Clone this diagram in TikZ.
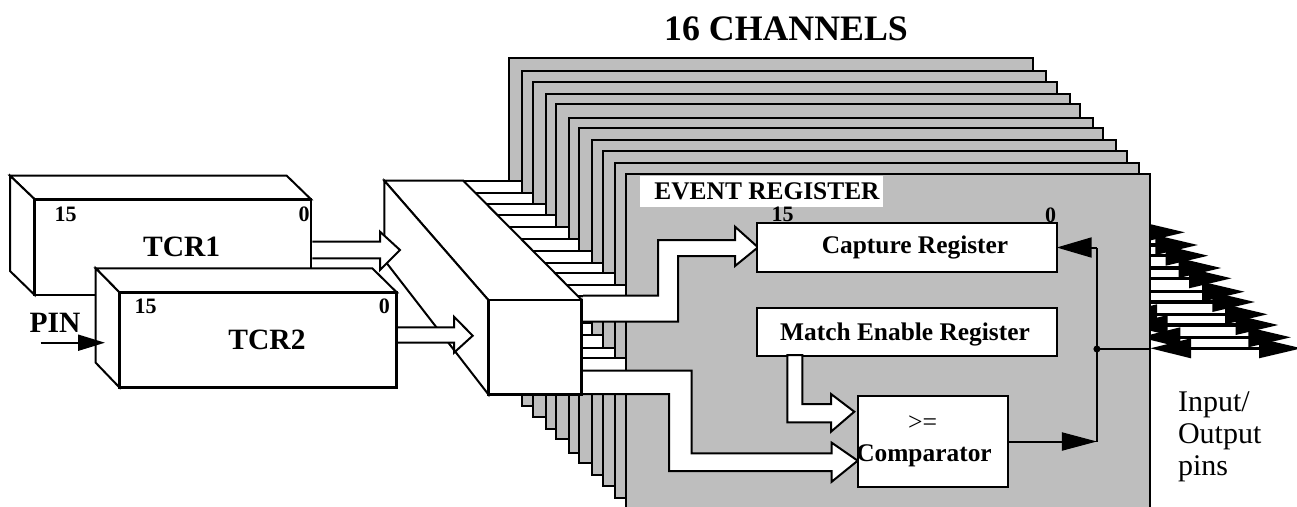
\documentclass[tikz,border=0pt]{standalone}
\usepackage{fontspec}
\setmainfont{Liberation Serif}
\usepackage{xcolor}
\usetikzlibrary{arrows.meta, positioning}
\definecolor{plategray}{HTML}{BEBEBE}
\tikzset{
    plate/.style={draw, fill=plategray},
    regbox/.style={draw, fill=white, inner sep=0pt, outer sep=0pt},
    frontbox/.style={regbox, line width=2.6pt},
    buspath/.style={draw, fill=white, miter limit=10},
    headline/.style={-{Triangle[length=35pt,width=18pt]}},
    txt/.style={inner sep=0pt, font=\bfseries\fontsize{25.4}{28}\selectfont},
    bigtxt/.style={inner sep=0pt, font=\bfseries\fontsize{29.5}{32}\selectfont},
    bittxt/.style={inner sep=0pt, font=\bfseries\fontsize{22}{24}\selectfont}
}

\begin{document}
\begin{tikzpicture}[x=1pt, y=-1pt, line width=2pt]
    \clip (0,0) rectangle (1297,506);
    \node[inner sep=0pt, font=\bfseries\fontsize{35.8}{38}\selectfont] (title) at (786,29) {16 CHANNELS};

    \foreach \x/\y in {509.3/58.3, 522.3/71, 532.7/81.7, 545.7/94, 556/104.3, 569/117.7,
                       579.3/128, 592/140.3, 602.7/151, 615.3/163.3, 626/174.3} {
        \draw[plate] (\x,\y) rectangle ++(524,335);
        \draw[line width=3.5pt, {Triangle[length=41pt,width=19pt]}-{Triangle[length=43pt,width=19pt]}]
            (\x+524,\y+174) -- (\x+676,\y+174);
    }

    \foreach \t/\r/\b in {180.7/522.3/193.3, 193.3/532.7/203.7, 203.7/545.7/215.3, 215.3/556/226.7,
                          226.7/569/239.3, 239.3/579.3/250.7, 250.7/592/262.7, 262.7/602.7/273.3,
                          273.3/615.3/285, 285/626/296} {
        \draw[fill=white] (\t*0.99+280,\t) rectangle (\r,\b);
    }
    \foreach \t/\r/\b in {322.7/592/334.7, 334.7/602.7/347.7, 347.7/615.3/358.3, 358.3/626/370.7} {
        \draw[fill=white] (575,\t) rectangle (\r,\b);
    }

    \draw[fill=white] (384.3,180.7) -- (463.3,180.7) -- (581.7,300) -- (488.3,300) -- cycle;
    \draw[fill=white] (384.3,180.7) -- (488.3,300) -- (488.3,394.3) -- (384.3,260) -- cycle;
    \node[frontbox, minimum width=93.4, minimum height=94.3] (mux) at (535,347.2) {};

    \draw[fill=white] (10,175.7) -- (286.7,175.7) -- (311,199.3) -- (34.7,199.3) -- cycle;
    \draw[fill=white] (10,175.7) -- (34.7,199.3) -- (34.7,295) -- (10,271) -- cycle;
    \node[frontbox, minimum width=276.3, minimum height=95.7] (tcra) at (172.85,247.15) {};
    \node[bittxt] (tcrahigh) at (65.7,214) {15};
    \node[bittxt] (tcralow) at (304,214) {0};
    \node[bigtxt] (tcraname) at (181.7,247) {TCR1};
    \draw[buspath] (312.3,241.7) -- (380,241.7) -- (380,231.7) -- (400,250) -- (380,270) -- (380,258.3) -- (312.3,258.3);

    \draw[fill=white] (95.7,268.3) -- (372.3,268.3) -- (396.7,292.3) -- (119.3,292.3) -- cycle;
    \draw[fill=white] (95.7,268.3) -- (119.3,292.3) -- (119.3,387.3) -- (95.7,362.7) -- cycle;
    \node[frontbox, minimum width=277.4, minimum height=95] (tcrb) at (258,339.8) {};
    \node[bittxt] (tcrbhigh) at (145.7,306.7) {15};
    \node[bittxt] (tcrblow) at (384.3,306.7) {0};
    \node[bigtxt] (tcrbname) at (267,340) {TCR2};
    \draw[buspath] (398,327.3) -- (454,327.3) -- (454,316.7) -- (472.7,335.7) -- (454,352.7) -- (454,342.7) -- (398,342.7);

    \node[bigtxt] (pin) at (55,323) {PIN};
    \coordinate (pinstart) at (40.7,342.7);
    \coordinate (pinend) at (105,342.7);
    \draw[-{Triangle[length=27pt,width=16pt]}] (pinstart) -- (pinend);

    \node[regbox, draw=none, minimum width=243.3, minimum height=31] (eventback) at (761.7,191) {};
    \node[txt] (event) at (767,191.5) {EVENT REGISTER};

    \draw[buspath] (583,295.7) -- (658,295.7) -- (658,240) -- (735,240) -- (735,226.7) -- (758,247.3)
        -- (735,266) -- (735,256) -- (678,256) -- (678,321.7) -- (583,321.7);
    \draw[buspath] (583,370.7) -- (691.7,370.7) -- (691.7,453.3) -- (831.7,453.3) -- (831.7,442.7) -- (857.7,460.7)
        -- (831.7,481.7) -- (831.7,471) -- (669,471) -- (669,394) -- (583,394);

    \node[regbox, minimum width=299.4, minimum height=48.4] (capture) at (907,247.5) {};
    \node[txt] (capturename) at (915,247) {Capture Register};
    \node[bittxt] (capturehigh) at (782.7,214) {15};
    \node[bittxt] (capturelow) at (1050.7,215) {0};

    \node[regbox, minimum width=299.4, minimum height=47.7] (match) at (907,332.2) {};
    \node[txt] (matchname) at (905,334.5) {Match Enable Register};

    \draw[buspath] (787.3,355) -- (802.3,355) -- (802.3,404) -- (831,404) -- (831,394) -- (854.3,411.7)
        -- (831,431.7) -- (831,422.3) -- (787.3,422.3) -- cycle;

    \node[regbox, minimum width=150, minimum height=91.6] (comparator) at (932.7,441.5) {};
    \node[inner sep=0pt, font=\fontsize{25.7}{28}\selectfont] (gteq) at (922.7,423) {>=};
    \node[txt] (comparatorname) at (924,456) {Comparator};

    \coordinate (dot) at (1096.9,349);
    \coordinate (upper) at (1096.9,247.5);
    \coordinate (lower) at (1096.9,441.5);
    \coordinate (edge) at (1150,349);
    \draw[headline] (comparator.east) -- (lower);
    \draw (lower) -- (upper);
    \draw[-{Triangle[length=35pt,width=20pt]}] (upper) -- (capture.east);
    \draw (dot) -- (edge);
    \fill (dot) circle (3.5);

    \node[inner sep=0pt, anchor=west, align=left, font=\fontsize{30}{32}\selectfont] (pins) at (1177,437) {Input/\\Output\\pins};
\end{tikzpicture}
\end{document}
